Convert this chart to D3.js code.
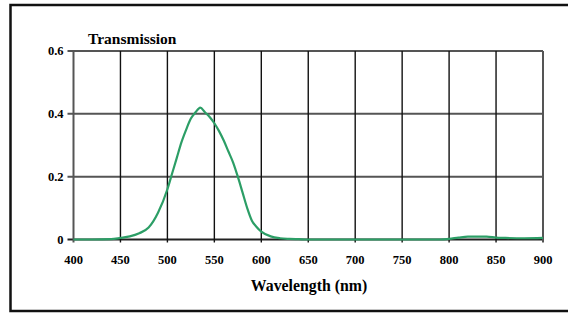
<!DOCTYPE html>
<html>
<head>
<meta charset="utf-8">
<script src="https://cdn.jsdelivr.net/npm/d3@7"></script>
<style>
  body { margin: 0; background: #fff; }
  svg { display: block; font-family: "Liberation Serif", "Times New Roman", serif; font-weight: bold; }
</style>
</head>
<body>
<svg width="568" height="313"></svg>
<script>
const width = 568;
const height = 313;

// wavelength (nm) and transmission
const wavelengths = [400, 420, 440, 450, 460, 470, 480, 490, 500, 505, 510, 515, 520, 525, 530, 535,
  540, 545, 550, 555, 560, 565, 570, 575, 580, 585, 590, 595, 600, 610, 620, 630, 640, 650,
  700, 750, 790, 800, 810, 820, 830, 840, 850, 860, 880, 900];
const transmission = [0, 0, 0.001, 0.005, 0.01, 0.02, 0.038, 0.085, 0.16, 0.21, 0.26, 0.31, 0.35, 0.385, 0.405, 0.42,
  0.405, 0.39, 0.37, 0.345, 0.315, 0.28, 0.245, 0.2, 0.15, 0.1, 0.06, 0.04, 0.025, 0.01, 0.004, 0.002, 0.001, 0,
  0, 0, 0, 0.002, 0.006, 0.009, 0.009, 0.009, 0.006, 0.005, 0.004, 0.005];
const xTicks = [400, 450, 500, 550, 600, 650, 700, 750, 800, 850, 900];
const yTicks = [0, 0.2, 0.4, 0.6];

const svg = d3.select('svg');

// outer frame (right side runs off the picture)
svg.append("rect")
    .attr("x", 10.5).attr("y", 5)
    .attr("width", 570).attr("height", 306)
    .style("fill", "none")
    .style("stroke", "#111")
    .style("stroke-width", 2.5);

const x = d3.scaleLinear().domain([400, 900]).range([73.5, 543]);
const y = d3.scaleLinear().domain([0, 0.6]).range([239.5, 51]);

// horizontal grid
svg.append("g").selectAll("line")
    .data(yTicks)
    .enter().append("line")
    .attr("x1", x(400) - 6).attr("x2", x(900))
    .attr("y1", d => y(d)).attr("y2", d => y(d))
    .style("stroke", d => d == 0 ? "#222" : "#555")
    .style("stroke-width", 2);

// vertical grid
svg.append("g").selectAll("line")
    .data(xTicks)
    .enter().append("line")
    .attr("x1", d => x(d)).attr("x2", d => x(d))
    .attr("y1", y(0.6)).attr("y2", y(0) + 3)
    .style("stroke", d => (d == 400 || d == 900) ? "#555" : "#111")
    .style("stroke-width", d => (d == 400 || d == 900) ? 2 : 1.4);

// tick labels
svg.append("g").selectAll("text")
    .data(yTicks)
    .enter().append("text")
    .attr("x", x(400) - 10)
    .attr("y", d => y(d) + 4)
    .attr("text-anchor", "end")
    .style("font-size", "12.5px")
    .text(d => d == 0 ? "0" : d3.format(".1f")(d));

svg.append("g").selectAll("text")
    .data(xTicks)
    .enter().append("text")
    .attr("x", d => x(d))
    .attr("y", 263.5)
    .attr("text-anchor", "middle")
    .style("font-size", "12.5px")
    .text(d => d);

svg.append("text")
    .attr("x", 88).attr("y", 43.5)
    .style("font-size", "15.5px")
    .text("Transmission");

svg.append("text")
    .attr("x", 309).attr("y", 291)
    .attr("text-anchor", "middle")
    .style("font-size", "15.8px")
    .text("Wavelength (nm)");

// the curve
const line = d3.line()
    .x((d, i) => x(wavelengths[i]))
    .y(d => y(d))
    .curve(d3.curveMonotoneX);

svg.append("path")
    .datum(transmission)
    .attr("d", line)
    .style("fill", "none")
    .style("stroke", "#2c9e66")
    .style("stroke-width", 2.2);
</script>
</body>
</html>
